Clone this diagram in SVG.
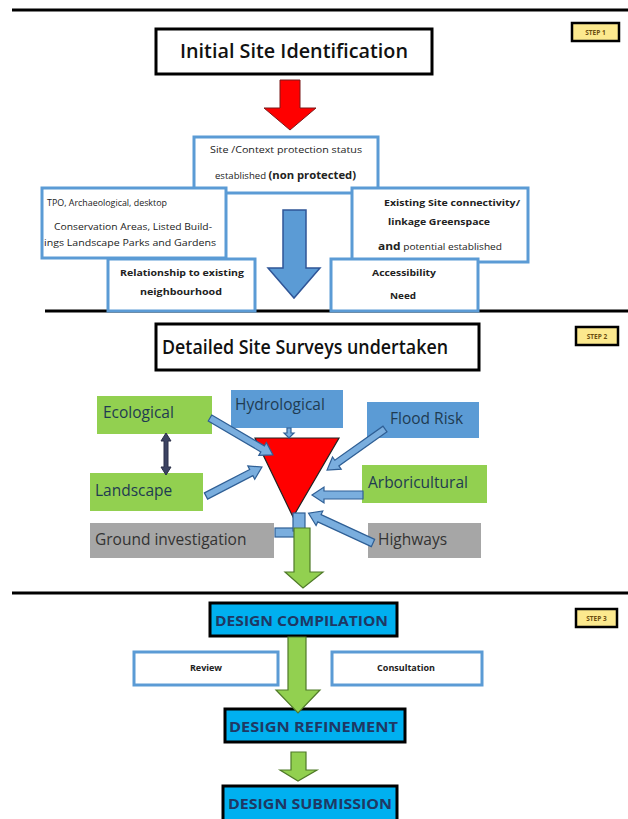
<svg xmlns="http://www.w3.org/2000/svg" width="628" height="819" viewBox="0 0 628 819">
<style>
.sep{stroke:#000;stroke-width:3}
.title{fill:#fff;stroke:#000;stroke-width:3}
.step{fill:#fce98e;stroke:#000;stroke-width:2.5}
.steptxt{font-family:"Open Sans","Liberation Sans",sans-serif;font-size:6.5px;font-weight:bold;fill:#6b4e10}
.bbox{fill:#fff;stroke:#5b9bd5;stroke-width:3}
.t20{font-family:"Open Sans","Liberation Sans",sans-serif;font-size:20px;font-weight:600;fill:#111}
.small{font-family:"Open Sans","Liberation Sans",sans-serif;font-size:8.5px;fill:#222}
.smallb{font-family:"Open Sans","Liberation Sans",sans-serif;font-size:9px;font-weight:bold;fill:#222}
.green{fill:#92d050}
.blue{fill:#5b9bd5}
.gray{fill:#a6a6a6}
.lbl{font-family:"Open Sans","Liberation Sans",sans-serif;font-size:15.5px;fill:#1f3b52}
.lblg{font-family:"Open Sans","Liberation Sans",sans-serif;font-size:15.5px;fill:#333}
.ba{fill:#7aaede;stroke:#2f5f95;stroke-width:1.2}
.ga{fill:#92d050;stroke:#4f7a28;stroke-width:1.2}
.design{fill:#00b0f0;stroke:#000;stroke-width:3}
.dtxt{font-family:"Open Sans","Liberation Sans",sans-serif;font-size:15px;font-weight:bold;fill:#1f3864}
</style>

<g id="separators">
<line class="sep" x1="12" y1="10" x2="628" y2="10"/>
<line class="sep" x1="45" y1="311" x2="628" y2="311"/>
<line class="sep" x1="12" y1="593" x2="628" y2="593"/>
</g>

<g id="step1-label"><rect class="step" x="572" y="23" width="47" height="18"/><text class="steptxt" x="595.5" y="34.5" text-anchor="middle">STEP 1</text></g>
<g id="step2-label"><rect class="step" x="576" y="327" width="42" height="18"/><text class="steptxt" x="597" y="338.5" text-anchor="middle">STEP 2</text></g>
<g id="step3-label"><rect class="step" x="576" y="609" width="41" height="18"/><text class="steptxt" x="596.5" y="620.5" text-anchor="middle">STEP 3</text></g>

<g id="initial"><rect class="title" x="156" y="29" width="276" height="45"/><text class="t20" x="294" y="58" text-anchor="middle" textLength="228" lengthAdjust="spacingAndGlyphs">Initial Site Identification</text></g>

<g id="site-context"><rect class="bbox" x="194" y="137" width="184" height="56"/>
<text class="small" x="210" y="153" textLength="152" lengthAdjust="spacingAndGlyphs">Site /Context protection  status</text>
<text class="small" x="215" y="179" textLength="141" lengthAdjust="spacingAndGlyphs">established <tspan font-weight="bold" font-size="10">(non protected)</tspan></text></g>

<g id="tpo"><rect class="bbox" x="42" y="188" width="184" height="70"/>
<text class="small" x="47" y="206" textLength="120" lengthAdjust="spacingAndGlyphs">TPO, Archaeological, desktop</text>
<text class="small" x="54" y="230" textLength="158" lengthAdjust="spacingAndGlyphs">Conservation Areas, Listed Build-</text>
<text class="small" x="44" y="246" textLength="172" lengthAdjust="spacingAndGlyphs">ings Landscape Parks and Gardens</text></g>

<g id="connectivity"><rect class="bbox" x="352" y="188" width="176" height="74"/>
<text class="smallb" x="384" y="206" textLength="136" lengthAdjust="spacingAndGlyphs">Existing Site connectivity/</text>
<text class="smallb" x="388" y="225" textLength="102" lengthAdjust="spacingAndGlyphs">linkage Greenspace</text>
<text class="small" x="378" y="250" textLength="124" lengthAdjust="spacingAndGlyphs"><tspan font-weight="bold" font-size="10">and</tspan> potential established</text></g>

<g id="relationship"><rect class="bbox" x="108" y="259" width="147" height="52"/>
<text class="smallb" x="120" y="276" textLength="124" lengthAdjust="spacingAndGlyphs">Relationship to existing</text>
<text class="smallb" x="140" y="295" textLength="82" lengthAdjust="spacingAndGlyphs">neighbourhood</text></g>

<g id="accessibility"><rect class="bbox" x="331" y="259" width="147" height="52"/>
<text class="smallb" x="372" y="276" textLength="64" lengthAdjust="spacingAndGlyphs">Accessibility</text>
<text class="smallb" x="390" y="299" textLength="26" lengthAdjust="spacingAndGlyphs">Need</text></g>

<g id="detailed"><rect class="title" x="156" y="324" width="323" height="46"/><text class="t20" x="162" y="354" textLength="286" lengthAdjust="spacingAndGlyphs">Detailed Site Surveys undertaken</text></g>

<g id="ecological"><rect class="green" x="97" y="396" width="115" height="38"/><text class="lbl" x="103" y="418">Ecological</text></g>
<g id="hydrological"><rect class="blue" x="231" y="390" width="112" height="38"/><text class="lbl" x="235" y="410">Hydrological</text></g>
<g id="flood"><rect class="blue" x="367" y="402" width="112" height="36"/><text class="lbl" x="390" y="424">Flood Risk</text></g>
<g id="arboricultural"><rect class="green" x="362" y="465" width="125" height="38"/><text class="lbl" x="368" y="488">Arboricultural</text></g>
<g id="landscape"><rect class="green" x="90" y="473" width="113" height="38"/><text class="lbl" x="95" y="496">Landscape</text></g>
<g id="ground"><rect class="gray" x="90" y="523" width="184" height="35"/><text class="lblg" x="95" y="545">Ground investigation</text></g>
<g id="highways"><rect class="gray" x="368" y="523" width="113" height="35"/><text class="lblg" x="378" y="545">Highways</text></g>

<g id="triangle"><polygon points="255,438 339,438 293,517" fill="#ff0000" stroke="#222" stroke-width="1.2"/></g>

<g id="step3-design-compilation"><rect class="design" x="210" y="603" width="187" height="33"/><text class="dtxt" x="215" y="626" textLength="173" lengthAdjust="spacingAndGlyphs">DESIGN COMPILATION</text></g>
<g id="review"><rect class="bbox" x="134" y="652" width="144" height="33" stroke-width="2"/><text class="smallb" x="206" y="671" text-anchor="middle" font-size="8.5">Review</text></g>
<g id="consultation"><rect class="bbox" x="332" y="652" width="150" height="33" stroke-width="2"/><text class="smallb" x="406" y="671" text-anchor="middle" font-size="8.5">Consultation</text></g>
<g id="design-refinement"><rect class="design" x="225" y="709" width="180" height="33"/><text class="dtxt" x="229" y="732" textLength="169" lengthAdjust="spacingAndGlyphs">DESIGN REFINEMENT</text></g>
<g id="design-submission"><rect class="design" x="223" y="786" width="174" height="36"/><text class="dtxt" x="228" y="809" textLength="164" lengthAdjust="spacingAndGlyphs">DESIGN SUBMISSION</text></g>

<g id="connectors">
<polygon points="280,80 300,80 300,108 316,108 290,130 264,108 280,108" fill="#ff0000" stroke="#7a1a1a" stroke-width="1"/>
<polygon points="283,210 306,210 306,268 320,268 294,298 268,268 283,268" fill="#5b9bd5" stroke="#2f5597" stroke-width="1.5"/>
<polygon points="166,433 171,441 168,441 168,467 171,467 166,475 161,467 164,467 164,441 161,441" fill="#3c4362" stroke="#2a2f48" stroke-width="1"/>
<polygon class="ba" transform="translate(210,418) rotate(30.4)" points="0,-3.5 61,-3.5 61,-7.5 73,0 61,7.5 61,3.5 0,3.5"/>
<polygon class="ba" transform="translate(289,428) rotate(90)" points="0,-2 5,-2 5,-5 10,0 5,5 5,2 0,2"/>
<polygon class="ba" transform="translate(385,429) rotate(144.7)" points="0,-3.5 59,-3.5 59,-7.5 71,0 59,7.5 59,3.5 0,3.5"/>
<polygon class="ba" transform="translate(206,496) rotate(-27.4)" points="0,-3.5 51,-3.5 51,-7.5 63,0 51,7.5 51,3.5 0,3.5"/>
<polygon class="ba" transform="translate(363,495) rotate(180)" points="0,-4 39,-4 39,-8 51,0 39,8 39,4 0,4"/>
<polygon class="ba" transform="translate(373,543) rotate(-155.2)" points="0,-4 59,-4 59,-8 71,0 59,8 59,4 0,4"/>
<rect class="ba" x="275" y="528" width="20" height="9"/>
<rect class="ba" x="293" y="513" width="12" height="18"/>
<polygon class="ga" points="294,528 310,528 310,572 323,572 303,588 285,572 294,572"/>
<polygon class="ga" points="288,637 306,637 306,690 320,690 298,713 276,690 288,690"/>
<polygon class="ga" points="291,752 306,752 306,770 317,770 298,781 280,770 291,770"/>
</g>
</svg>
